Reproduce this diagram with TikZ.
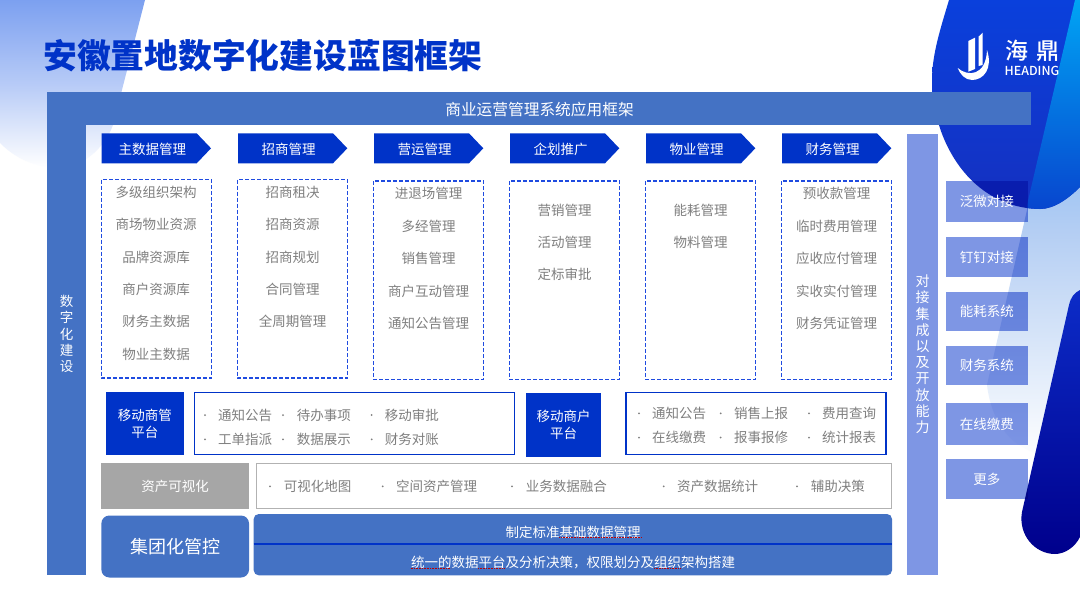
\documentclass[tikz,border=0pt]{standalone}
\usepackage{fontspec}
\setmainfont{Noto Sans CJK SC}
\newfontfamily\boldcjk{Noto Sans CJK SC Black}
\newfontfamily\medcjk{Noto Sans CJK SC Medium}
\usetikzlibrary{calc}
\definecolor{mainblue}{HTML}{4472C4}
\definecolor{deepblue}{HTML}{0033C8}
\definecolor{lightblue}{HTML}{7E96E4}
\definecolor{greytxt}{HTML}{7F7F7F}
\definecolor{dashblue}{HTML}{1F4BE0}
\tikzset{
 x=1pt,y=-1pt,
 itemtxt/.style={text=greytxt,font=\fontsize{13.5}{13.5}\selectfont,inner sep=0,anchor=center},
 dotmark/.style={circle,fill=greytxt,inner sep=0,minimum size=2pt},
 dashbox/.style={draw=dashblue,line width=1.3pt,dash pattern=on 4pt off 2pt},
 listbox/.style={draw=deepblue,fill=white,line width=1.1pt},
 whitetxt/.style={text=white,font=\fontsize{13.5}{13.5}\selectfont,inner sep=0},
 platbox/.style={fill=deepblue,text=white,font=\fontsize{13.5}{16.6}\selectfont,align=center,inner sep=0},
 sidefill/.style={fill=lightblue,inner sep=0,minimum width=81.7pt},
 squig/.style={draw=red!75!black,line width=.7pt,dash pattern=on .8pt off .8pt},
}
\newcommand{\chev}[3]{%
 \fill[deepblue] (#1,133.3) -- ++(95,0) -- ++(14.3,15) -- ++(-14.3,15) -- ++(-95,0) -- cycle;
 \node[whitetxt] (#3) at (#1+50.7,149) {#2};}
\newcommand{\ditem}[5]{%
 \node[dotmark] (#1b) at (#2,#4) {};
 \node[itemtxt,anchor=west] (#1t) at (#3,#4) {#5};}
\newcommand{\blobpath}{(949,0) .. controls (940,30) and (932,55) .. (932,80) .. controls (932,140) and (970,208) .. (1040,209) .. controls (1055,209) and (1070,197) .. (1080,187) -- (1080,0) -- cycle}
\begin{document}
\begin{tikzpicture}
\useasboundingbox (0,0) rectangle (1080,606);
\fill[white] (0,0) rectangle (1080,606);
% decor top-left
\definecolor{tl1}{HTML}{7CA0F0}
\shade[top color=tl1,bottom color=white,middle color=tl1!55!white] (0,0) -- (145,0) -- (113,125) .. controls (104,150) and (80,168) .. (60,168) .. controls (35,168) and (15,158) .. (0,143) -- cycle;
% light band
\definecolor{lb1}{HTML}{5AA6F0}
\definecolor{lb2}{HTML}{B4CEF3}
\shade[top color=lb1,bottom color=white,middle color=lb2] (1075,0) -- (987,385) .. controls (990,410) and (1000,430) .. (1015,442) .. controls (1040,460) and (1065,462) .. (1080,462) -- (1080,0) -- cycle;
% blob
\definecolor{bl1}{HTML}{0A40DC}
\definecolor{bl2}{HTML}{1530C0}
\shade[top color=bl1,bottom color=bl2] \blobpath;
\begin{scope}
 \clip \blobpath;
 \definecolor{cy1}{HTML}{00A4F4}
 \definecolor{cy2}{HTML}{0840CC}
 \shade[top color=cy1,bottom color=cy2] (1075,0) -- (1023,222) -- (1080,222) -- (1080,0) -- cycle;
\end{scope}
% lower dark shape
\definecolor{dk1}{HTML}{0C2CC8}
\definecolor{dk2}{HTML}{00008C}
\shade[top color=dk1,bottom color=dk2] (1080,290) .. controls (1074,293) and (1071,297) .. (1069,305) -- (1022,512)
  .. controls (1018,535) and (1035,554) .. (1055,554) .. controls (1065,554) and (1075,547) .. (1080,537) -- cycle;
% logo
\fill[white] (968.3,41) -- (975,37.7) -- (975,69) -- (968.3,71.7) -- cycle;
\fill[white] (978.7,36.5) -- (982.7,32.7) -- (982.7,65) -- (978.7,66) -- cycle;
\fill[white] (957.7,68) .. controls (968,77) and (986,76) .. (987,50) .. controls (993,68) and (984,80) .. (972,80) .. controls (965,80) and (960,74) .. (957.7,68) -- cycle;
\node[text=white,font=\medcjk\fontsize{23}{23}\selectfont,inner sep=0] (lgA) at (1017,51) {海};
\node[text=white,font=\medcjk\fontsize{23}{23}\selectfont,inner sep=0] (lgB) at (1048,51) {鼎};
\node[text=white,font=\medcjk\fontsize{12.4}{12.4}\selectfont,inner sep=0] (lgC) at (1032,71) {HEADING};
% title
\node[text=deepblue,font=\boldcjk\fontsize{33.8}{33.8}\selectfont,inner sep=0,anchor=west] (title) at (43,56) {安徽置地数字化建设蓝图框架};
% frame
\fill[mainblue] (47,91.7) rectangle (1031,125);
\fill[mainblue] (47,125) rectangle (86,575);
\node[whitetxt,font=\fontsize{15.7}{15.7}\selectfont] (frametitle) at (539.5,109.5) {商业运营管理系统应用框架};
\node[whitetxt,font=\fontsize{13.5}{16.2}\selectfont,align=center] (leftv) at (66.5,334) {数\\字\\化\\建\\设};
% chevrons
\chev{101.7}{主数据管理}{c1}
\chev{238}{招商管理}{c2}
\chev{374}{营运管理}{c3}
\chev{510}{企划推广}{c4}
\chev{646}{物业管理}{c5}
\chev{782}{财务管理}{c6}
% dashed boxes
\draw[dashbox] (101.5,179.5) rectangle (211.5,378);
\draw[dashbox] (237.5,179.5) rectangle (347.5,378);
\draw[dashbox] (373.5,181) rectangle (483.5,379.5);
\draw[dashbox] (509.5,181) rectangle (619.5,379.5);
\draw[dashbox] (645.5,181) rectangle (755.5,379.5);
\draw[dashbox] (781.5,181) rectangle (891.5,379.5);
% column items
\foreach \t [count=\i] in {多级组织架构,商场物业资源,品牌资源库,商户资源库,财务主数据,物业主数据}
  \node[itemtxt] (a\i) at (156,192.5+32.3*\i-32.3) {\t};
\foreach \t [count=\i] in {招商租决,招商资源,招商规划,合同管理,全周期管理}
  \node[itemtxt] (b\i) at (292.5,192.5+32.3*\i-32.3) {\t};
\foreach \t [count=\i] in {进退场管理,多经管理,销售管理,商户互动管理,通知公告管理}
  \node[itemtxt] (d\i) at (428.5,193.7+32.4*\i-32.4) {\t};
\foreach \t [count=\i] in {营销管理,活动管理,定标审批}
  \node[itemtxt] (e\i) at (564.5,210.5+32*\i-32) {\t};
\foreach \t [count=\i] in {能耗管理,物料管理}
  \node[itemtxt] (f\i) at (700.5,210.5+32*\i-32) {\t};
\foreach \t [count=\i] in {预收款管理,临时费用管理,应收应付管理,实收实付管理,财务凭证管理}
  \node[itemtxt] (g\i) at (836.5,193.7+32.4*\i-32.4) {\t};
% mobile row
\node[platbox,minimum width=77.7pt,minimum height=63.3pt] (m1) at (144.9,423.7) {移动商管\\平台};
\draw[listbox] (194.4,392.4) rectangle (514.6,454.6);
\ditem{n1}{205}{218}{415}{通知公告}
\ditem{n2}{283}{296.7}{415}{待办事项}
\ditem{n3}{371.7}{384.7}{415}{移动审批}
\ditem{n4}{205}{218}{439.3}{工单指派}
\ditem{n5}{283}{296.7}{439.3}{数据展示}
\ditem{n6}{371.7}{384.7}{439.3}{财务对账}
\node[platbox,minimum width=75pt,minimum height=63.7pt] (m2) at (563.5,424.9) {移动商户\\平台};
\draw[listbox] (626,392.4) rectangle (886,454.6);
\ditem{p1}{639}{652}{413.3}{通知公告}
\ditem{p2}{720.7}{734}{413.3}{销售上报}
\ditem{p3}{809}{822}{413.3}{费用查询}
\ditem{p4}{639}{652}{437.5}{在线缴费}
\ditem{p5}{720.7}{734}{437.5}{报事报修}
\ditem{p6}{809}{822}{437.5}{统计报表}
% asset row
\node[fill=black!35,text=white,font=\fontsize{13.5}{13.5}\selectfont,minimum width=147.7pt,minimum height=46pt,inner sep=0] (as) at (175.2,486) {资产可视化};
\draw[draw=black!30,line width=1.1pt,fill=white] (256.7,463.5) rectangle (891.5,508.8);
\ditem{q1}{270}{283.7}{486.3}{可视化地图}
\ditem{q2}{382.7}{396}{486.3}{空间资产管理}
\ditem{q3}{512}{525.7}{486.3}{业务数据融合}
\ditem{q4}{663.7}{677}{486.3}{资产数据统计}
\ditem{q5}{797}{810.7}{486.3}{辅助决策}
% bottom
\node[fill=mainblue,rounded corners=8pt,text=white,font=\fontsize{18}{18}\selectfont,minimum width=147.7pt,minimum height=62pt,inner sep=0] (grp) at (175.2,546.5) {集团化管控};
\fill[mainblue,rounded corners=5pt] (253.7,514) rectangle (892,575.3);
\draw[deepblue,line width=2pt] (253.7,544.3) -- (892,544.3);
\node[whitetxt] (s1) at (573,532.7) {制定标准基础数据管理};
\node[whitetxt] (s2) at (573,562.7) {统一的数据平台及分析决策，权限划分及组织架构搭建};
\draw[squig] (559.3,537.7) -- (641.7,537.7);
\draw[squig] (410.7,568.4) -- (450.7,568.4);
\draw[squig] (478,568.4) -- (504,568.4);
\draw[squig] (654,568.4) -- (680.7,568.4);
% right
\begin{scope}[blend mode=multiply]
 \node[sidefill,minimum width=31pt,minimum height=441.5pt] (rv) at (922.5,354.3) {};
 \node[sidefill,minimum height=41pt] (r1) at (986.9,201.2) {};
 \node[sidefill,minimum height=39.4pt] (r2) at (986.9,257) {};
 \node[sidefill,minimum height=38.4pt] (r3) at (986.9,311.5) {};
 \node[sidefill,minimum height=39.3pt] (r4) at (986.9,365.7) {};
 \node[sidefill,minimum height=41.4pt] (r5) at (986.9,424) {};
 \node[sidefill,minimum height=39.7pt] (r6) at (986.9,479.2) {};
\end{scope}
\node[whitetxt,font=\fontsize{14}{16.2}\selectfont,align=center] (rvt) at (rv) {对\\接\\集\\成\\以\\及\\开\\放\\能\\力};
\node[whitetxt] (r1t) at (r1) {泛微对接};
\node[whitetxt] (r2t) at (r2) {钉钉对接};
\node[whitetxt] (r3t) at (r3) {能耗系统};
\node[whitetxt] (r4t) at (r4) {财务系统};
\node[whitetxt] (r5t) at (r5) {在线缴费};
\node[whitetxt] (r6t) at (r6) {更多};
\end{tikzpicture}
\end{document}
